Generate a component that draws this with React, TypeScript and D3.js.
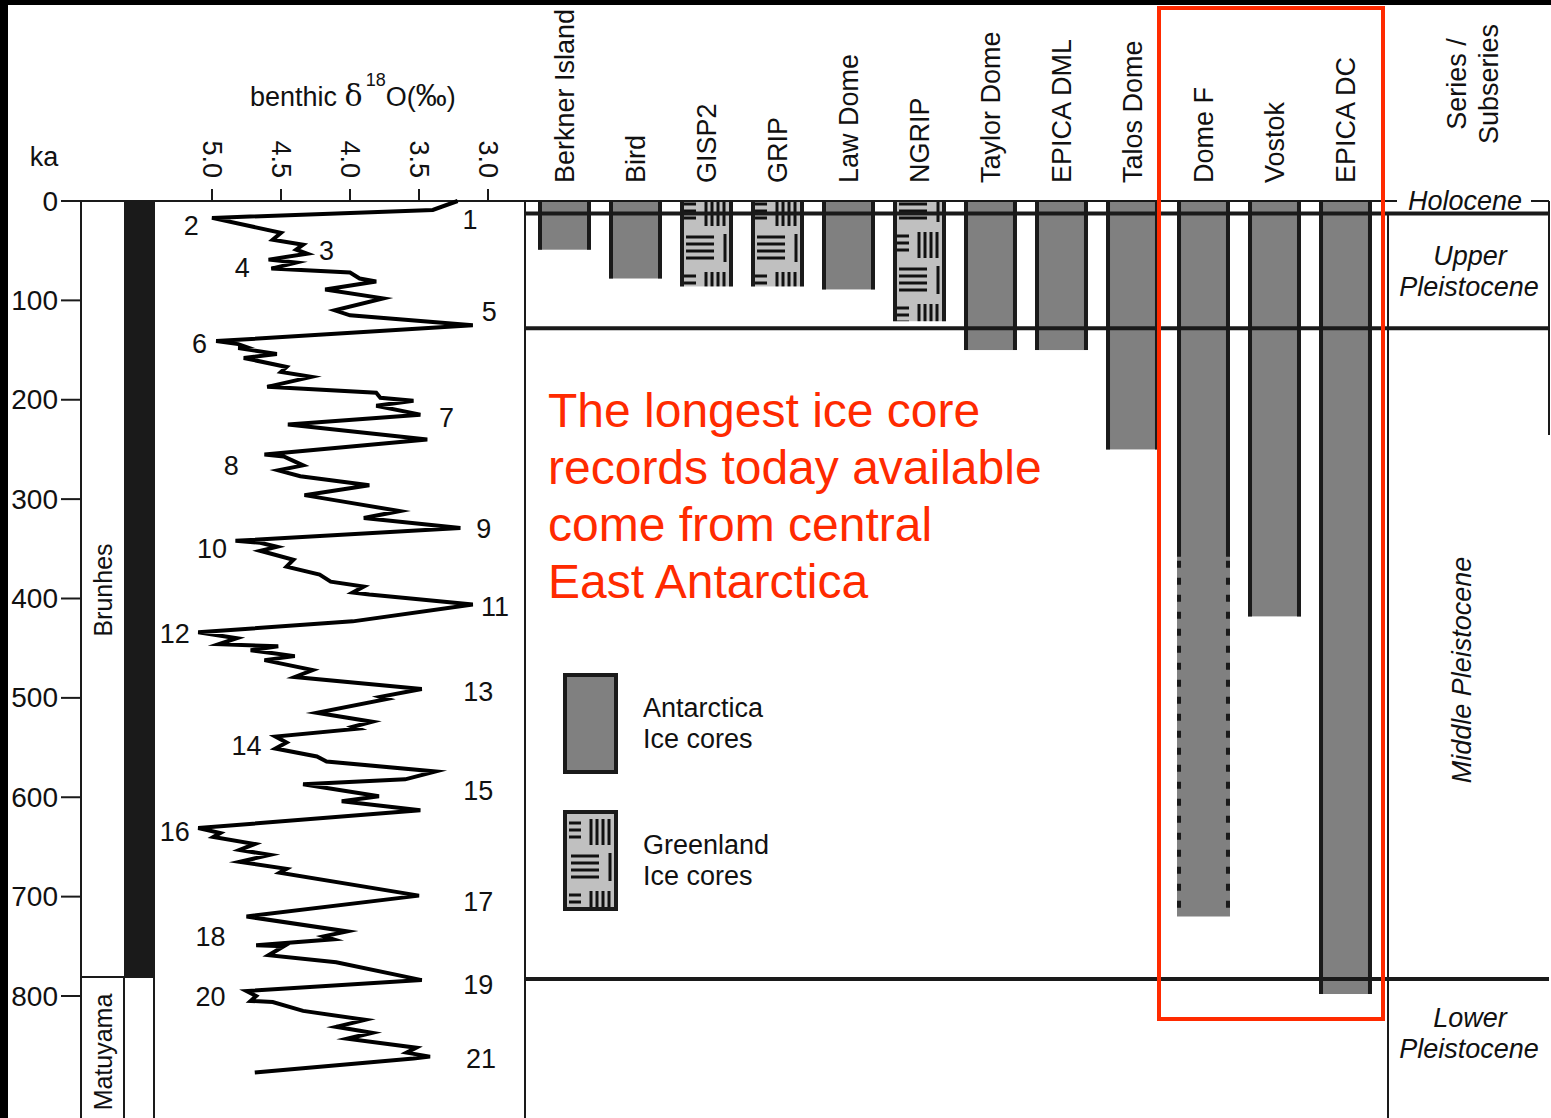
import React, { useRef, useEffect } from 'react';
import * as d3 from 'd3';

const FONT = '"Liberation Sans", Arial, Helvetica, sans-serif';
const INK = '#1a1a1a';
const RED = '#ff2a00';

// ---- data ----
const KA_TICKS = [0, 100, 200, 300, 400, 500, 600, 700, 800];
const D18O_TICKS = [5.0, 4.5, 4.0, 3.5, 3.0];

// benthic d18O stack (ka, permil)
const CURVE_KA = [
  0, 9, 17, 32, 39, 44, 49, 53, 59, 62, 68, 72, 78, 81, 89, 98, 110, 115, 125,
  141, 144, 147, 148, 154, 158, 167, 172, 177, 187, 193, 198, 201, 206, 215, 225,
  240, 255, 257, 266, 271, 277, 286, 296, 302, 312, 319, 329, 342, 344, 348, 352,
  361, 368, 376, 383, 388, 394, 396, 406, 423, 434, 440, 446, 448, 452, 458, 462,
  472, 479, 491, 499, 501, 515, 524, 529, 531, 539, 545, 551, 559, 564, 574, 582,
  587, 599, 604, 613, 631, 636, 640, 647, 653, 658, 665, 672, 676, 699, 720, 735,
  740, 743, 749, 750, 759, 766, 784, 795, 800, 805, 806, 815, 824, 831, 837, 843,
  852, 857, 861, 863, 877,
];
const CURVE_D18O = [
  3.22, 3.4, 5.0, 4.5, 4.56, 4.34, 4.39, 4.31, 4.59, 4.39, 4.57, 4.0, 3.93, 3.81, 4.18, 3.76, 4.11, 4.0, 3.11,
  4.97, 4.81, 4.75, 4.81, 4.53, 4.77, 4.46, 4.5, 4.28, 4.6, 3.81, 3.78, 3.54, 3.81, 3.49, 4.45,
  3.44, 4.62, 4.48, 4.34, 4.52, 4.36, 3.86, 4.33, 4.07, 3.64, 3.9, 3.2, 4.83, 4.65, 4.53, 4.65,
  4.41, 4.46, 4.22, 4.14, 3.9, 3.98, 3.86, 3.11, 3.98, 5.1, 4.82, 4.95, 4.52, 4.72, 4.4, 4.62,
  4.27, 4.4, 3.48, 3.78, 3.73, 4.24, 3.84, 3.98, 3.94, 4.54, 4.46, 4.54, 4.24, 4.17, 3.38, 3.6,
  4.34, 3.79, 4.06, 3.49, 5.1, 4.94, 4.99, 4.69, 4.8, 4.58, 4.8, 4.46, 4.51, 3.5, 4.75, 4.02,
  4.19, 4.12, 4.68, 4.48, 4.59, 4.1, 3.48, 4.75, 4.68, 4.72, 4.56, 4.34, 3.89, 4.1, 3.84, 4.02,
  3.52, 3.59, 3.42, 3.54, 4.69,
];

// marine isotope stage labels
const MIS_LABELS = ['1', '2', '3', '4', '5', '6', '7', '8', '9', '10', '11', '12', '13', '14', '15', '16', '17', '18', '19', '20', '21'];
const MIS_KA = [19, 25, 50, 67, 112, 144, 218, 267, 330, 350, 409, 436, 494, 548, 594, 635, 705, 741, 789, 801, 863];
const MIS_D18O = [3.13, 5.15, 4.17, 4.78, 2.99, 5.09, 3.3, 4.86, 3.03, 5.0, 2.95, 5.27, 3.07, 4.75, 3.07, 5.27, 3.07, 5.01, 3.07, 5.01, 3.05];

// ice cores
const CORE_NAMES = ['Berkner Island', 'Bird', 'GISP2', 'GRIP', 'Law Dome', 'NGRIP', 'Taylor Dome', 'EPICA DML', 'Talos Dome', 'Dome F', 'Vostok', 'EPICA DC'];
const CORE_BASE_KA = [49, 78, 86, 86, 89, 121, 150, 150, 250, 720, 418, 798];
const CORE_REGION = ['Antarctica', 'Antarctica', 'Greenland', 'Greenland', 'Antarctica', 'Greenland', 'Antarctica', 'Antarctica', 'Antarctica', 'Antarctica', 'Antarctica', 'Antarctica'];
const DOME_F_CONTINUOUS_KA = 358; // below this the Dome F record is dashed

// stratigraphy
const SERIES_BOUNDARIES_KA = [12.5, 128, 783];
const POLARITY_BOUNDARY_KA = 781;

const LEGEND_ITEMS = [
  { region: 'Antarctica', lines: ['Antarctica', 'Ice cores'] },
  { region: 'Greenland', lines: ['Greenland', 'Ice cores'] },
];

const NOTE_LINES = ['The longest ice core', 'records today available', 'come from central', 'East Antarctica'];

// vertical phase of the hatch for each Greenland column
const HATCH_PHASE: Record<string, number> = { GISP2: 56, GRIP: 56, NGRIP: 16, legend: 819 };

const W = 1551;
const H = 1118;

export default function App() {
  const svgRef = useRef<SVGSVGElement | null>(null);

  useEffect(() => {
    if (!svgRef.current) return;
    const svg = d3.select(svgRef.current);
    svg.selectAll('*').remove();

    const ky = d3.scaleLinear().domain([0, 800]).range([201, 996]);
    const dx = d3.scaleLinear().domain([5.0, 3.0]).range([212, 488]);
    const col = d3
      .scaleBand<string>()
      .domain(CORE_NAMES)
      .range([529, 1381])
      .paddingInner(0.254)
      .paddingOuter(0.127);

    const defs = svg.append('defs');

    function hatch(id: string, x0: number, y0: number) {
      const p = defs
        .append('pattern')
        .attr('id', id)
        .attr('patternUnits', 'userSpaceOnUse')
        .attr('x', x0)
        .attr('y', y0)
        .attr('width', 60)
        .attr('height', 72);
      p.append('rect').attr('width', 60).attr('height', 72).attr('fill', '#c0c0c0');
      const g = p.append('g').attr('stroke', '#111').attr('stroke-width', 3);
      [4, 11, 18].forEach((y) => g.append('line').attr('x1', 4).attr('x2', 16).attr('y1', y).attr('y2', y));
      [26, 32, 38, 44].forEach((x) => g.append('line').attr('x1', x).attr('x2', x).attr('y1', 0).attr('y2', 26));
      [37, 44, 51, 58].forEach((y) => g.append('line').attr('x1', 6).attr('x2', 34).attr('y1', y).attr('y2', y));
      g.append('line').attr('x1', 45).attr('x2', 45).attr('y1', 34).attr('y2', 62);
    }

    // page frame: black strip top and left
    svg.append('rect').attr('width', W).attr('height', H).attr('fill', '#000');
    svg.append('rect').attr('x', 8).attr('y', 5).attr('width', W - 8).attr('height', H - 5).attr('fill', '#fff');

    const txt = (g: any, x: number, y: number, s: string, size = 26) =>
      g
        .append('text')
        .attr('x', x)
        .attr('y', y)
        .attr('font-family', FONT)
        .attr('font-size', size)
        .attr('fill', '#111')
        .text(s);

    // ---- ka axis ----
    const axis = svg.append('g');
    KA_TICKS.forEach((t) => {
      axis.append('line').attr('x1', 61).attr('x2', 81).attr('y1', ky(t)).attr('y2', ky(t)).attr('stroke', INK).attr('stroke-width', 2);
      txt(axis, 58, ky(t), String(t), 28).attr('text-anchor', 'end').attr('dominant-baseline', 'central');
    });
    txt(axis, 44, 157, 'ka', 27).attr('text-anchor', 'middle').attr('dominant-baseline', 'central');

    // top line of the left panel
    axis.append('line').attr('x1', 81).attr('x2', 525).attr('y1', ky(0)).attr('y2', ky(0)).attr('stroke', INK).attr('stroke-width', 2);

    // polarity column
    const pol = svg.append('g');
    pol.append('rect').attr('x', 124).attr('y', ky(0)).attr('width', 30).attr('height', ky(POLARITY_BOUNDARY_KA) - ky(0)).attr('fill', INK);
    pol.append('line').attr('x1', 81).attr('x2', 81).attr('y1', ky(0)).attr('y2', H).attr('stroke', INK).attr('stroke-width', 2);
    pol.append('line').attr('x1', 124).attr('x2', 124).attr('y1', ky(POLARITY_BOUNDARY_KA)).attr('y2', H).attr('stroke', INK).attr('stroke-width', 2);
    pol.append('line').attr('x1', 154).attr('x2', 154).attr('y1', ky(0)).attr('y2', H).attr('stroke', INK).attr('stroke-width', 2);
    pol.append('line').attr('x1', 81).attr('x2', 155).attr('y1', ky(POLARITY_BOUNDARY_KA)).attr('y2', ky(POLARITY_BOUNDARY_KA)).attr('stroke', INK).attr('stroke-width', 2);
    txt(pol, 0, 0, 'Brunhes', 25).attr('text-anchor', 'middle').attr('dominant-baseline', 'central').attr('transform', `translate(103,590) rotate(-90)`);
    txt(pol, 0, 0, 'Matuyama', 25).attr('text-anchor', 'middle').attr('dominant-baseline', 'central').attr('transform', `translate(103,1052) rotate(-90)`);

    // ---- d18O axis ----
    const dAx = svg.append('g');
    D18O_TICKS.forEach((t) => {
      dAx.append('line').attr('x1', dx(t)).attr('x2', dx(t)).attr('y1', 189).attr('y2', 201).attr('stroke', INK).attr('stroke-width', 2);
      txt(dAx, 0, 0, d3.format('.1f')(t), 27)
        .attr('text-anchor', 'end')
        .attr('dominant-baseline', 'central')
        .attr('transform', `translate(${dx(t)},178) rotate(90)`);
    });
    const title = txt(dAx, 250, 106, 'benthic ', 27);
    title.append('tspan').attr('font-family', '"DejaVu Serif", serif').attr('font-size', 30).text('δ');
    title.append('tspan').attr('font-size', 18).attr('dx', 3).attr('dy', -20).text('18');
    title.append('tspan').attr('dy', 20).text('O(');
    title.append('tspan').attr('font-size', 31).text('‰');
    title.append('tspan').text(')');

    // ---- curve ----
    const pts: [number, number][] = CURVE_KA.map((k, i) => [CURVE_D18O[i], k]);
    svg
      .append('path')
      .attr('d', d3.line<[number, number]>().x((d) => dx(d[0])).y((d) => ky(d[1]))(pts))
      .attr('fill', 'none')
      .attr('stroke', '#000')
      .attr('stroke-width', 4)
      .attr('stroke-linejoin', 'miter')
      .attr('stroke-miterlimit', 6);

    const mis = svg.append('g');
    MIS_LABELS.forEach((m, i) => {
      txt(mis, dx(MIS_D18O[i]), ky(MIS_KA[i]), m, 27).attr('text-anchor', 'middle').attr('dominant-baseline', 'central');
    });

    // ---- ice cores ----
    const cores = svg.append('g');
    const bw = col.bandwidth();
    CORE_NAMES.forEach((name, i) => {
      const x0 = col(name) as number;
      const base = CORE_BASE_KA[i];
      let fill = '#808080';
      if (CORE_REGION[i] === 'Greenland') {
        const id = `hatch-${i}`;
        hatch(id, x0, HATCH_PHASE[name] ?? 0);
        fill = `url(#${id})`;
      }
      cores.append('rect').attr('x', x0).attr('y', ky(0)).attr('width', bw).attr('height', ky(base) - ky(0)).attr('fill', fill);
      const solidEnd = name === 'Dome F' ? DOME_F_CONTINUOUS_KA : base;
      [x0 + 2, x0 + bw - 2].forEach((sx) => {
        cores.append('line').attr('x1', sx).attr('x2', sx).attr('y1', ky(0)).attr('y2', ky(solidEnd)).attr('stroke', INK).attr('stroke-width', 4);
        if (solidEnd < base) {
          cores
            .append('line')
            .attr('x1', sx)
            .attr('x2', sx)
            .attr('y1', ky(solidEnd) + 4)
            .attr('y2', ky(base))
            .attr('stroke', INK)
            .attr('stroke-width', 4)
            .attr('stroke-dasharray', '7 10');
        }
      });
      txt(cores, 0, 0, name, 27)
        .attr('text-anchor', 'start')
        .attr('dominant-baseline', 'central')
        .attr('transform', `translate(${x0 + bw / 2},183) rotate(-90)`);
    });

    // ---- frame & stratigraphic boundaries ----
    const fr = svg.append('g').attr('stroke', INK);
    fr.append('line').attr('x1', 525).attr('x2', 525).attr('y1', ky(0)).attr('y2', H).attr('stroke-width', 2);
    fr.append('line').attr('x1', 525).attr('x2', 1397).attr('y1', ky(0)).attr('y2', ky(0)).attr('stroke-width', 2);
    fr.append('line').attr('x1', 1531).attr('x2', 1549).attr('y1', ky(0)).attr('y2', ky(0)).attr('stroke-width', 2);
    fr.append('line').attr('x1', 1549).attr('x2', 1549).attr('y1', ky(0)).attr('y2', 435).attr('stroke-width', 2);
    fr.append('line').attr('x1', 1388).attr('x2', 1388).attr('y1', ky(SERIES_BOUNDARIES_KA[0])).attr('y2', H).attr('stroke-width', 2);
    SERIES_BOUNDARIES_KA.forEach((b) => {
      fr.append('line').attr('x1', 525).attr('x2', 1549).attr('y1', ky(b)).attr('y2', ky(b)).attr('stroke-width', 4);
    });

    // series column text
    const ser = svg.append('g');
    txt(ser, 0, 0, 'Series /', 27).attr('text-anchor', 'middle').attr('dominant-baseline', 'central').attr('transform', 'translate(1457,84) rotate(-90)');
    txt(ser, 0, 0, 'Subseries', 27).attr('text-anchor', 'middle').attr('dominant-baseline', 'central').attr('transform', 'translate(1489,84) rotate(-90)');
    const it = (x: number, y: number, s: string) =>
      txt(ser, x, y, s, 27).attr('font-style', 'italic').attr('text-anchor', 'middle').attr('dominant-baseline', 'central');
    it(1465, ky(0), 'Holocene');
    it(1470, 256, 'Upper');
    it(1469, 287, 'Pleistocene');
    it(0, 0, 'Middle Pleistocene').attr('transform', 'translate(1462,670) rotate(-90)');
    it(1470, 1018, 'Lower');
    it(1469, 1049, 'Pleistocene');

    // ---- legend ----
    const lg = svg.append('g');
    LEGEND_ITEMS.forEach((item, i) => {
      const top = 675 + i * 137;
      let fill = '#808080';
      if (item.region === 'Greenland') {
        hatch('hatch-legend', 565, HATCH_PHASE.legend);
        fill = 'url(#hatch-legend)';
      }
      lg.append('rect').attr('x', 565).attr('y', top).attr('width', 51).attr('height', 97).attr('fill', fill).attr('stroke', INK).attr('stroke-width', 4);
      item.lines.forEach((l, j) => txt(lg, 643, top + 42 + j * 31, l, 27));
    });

    // ---- annotation ----
    const note = svg.append('g');
    NOTE_LINES.forEach((l, i) => {
      txt(note, 548, 427 + i * 57, l, 48).attr('fill', RED);
    });
    svg
      .append('rect')
      .attr('x', 1159)
      .attr('y', 8)
      .attr('width', 224)
      .attr('height', 1011)
      .attr('fill', 'none')
      .attr('stroke', RED)
      .attr('stroke-width', 4);
  }, []);

  return <svg ref={svgRef} width={W} height={H} style={{ position: 'absolute', left: 0, top: 0 }} />;
}
